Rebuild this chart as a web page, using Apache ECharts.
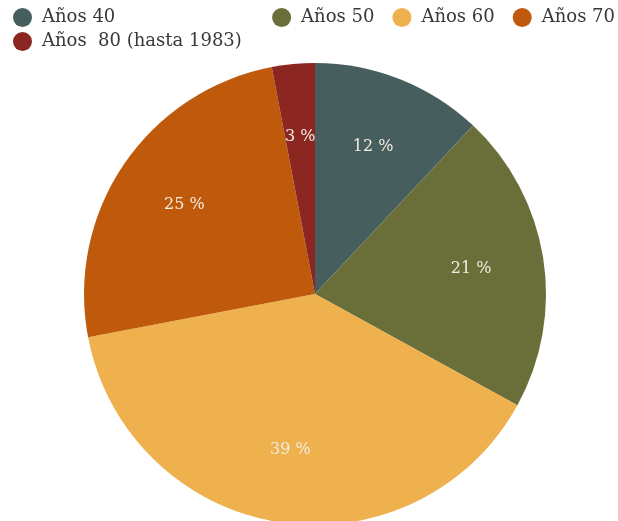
<!DOCTYPE html>
<html><head><meta charset="utf-8">
<script src="https://cdn.jsdelivr.net/npm/echarts@6/dist/echarts.min.js"></script>
<style>html,body{margin:0;padding:0;background:#fff}#c{width:618px;height:521px}</style>
</head><body><div id="c"></div>
<script>
const categories = ['Años 40', 'Años 50', 'Años 60', 'Años 70', 'Años  80 (hasta 1983)'];
const values = [12, 21, 39, 25, 3];
const colors = ['#475e5e', '#6a6f3a', '#efb04e', '#bf5a0c', '#8c2620'];

const data = categories.map((n, i) => ({ name: n, value: values[i], itemStyle: { color: colors[i] } }));
const font = 'DejaVu Serif';
const legendBase = {
  icon: 'circle', itemWidth: 19, itemHeight: 19, itemGap: 18,
  textStyle: { fontFamily: font, fontSize: 18, color: '#383838', padding: [0, 0, 0, 5] }, padding: 0
};
const chart = echarts.init(document.getElementById('c'));
chart.setOption({
  animation: false,
  legend: [
    Object.assign({}, legendBase, { data: [categories[0]], left: 13, top: 8 }),
    Object.assign({}, legendBase, { data: [categories[1], categories[2], categories[3]], right: 3, top: 8 }),
    Object.assign({}, legendBase, { data: [categories[4]], left: 13, top: 32 })
  ],
  series: [
    {
      type: 'pie', center: [315, 294], radius: [0, 231], startAngle: 90, clockwise: true,
      data: data, label: { show: false }, labelLine: { show: false }
    },
    {
      type: 'pie', center: [315, 294], radius: [79, 231], startAngle: 90, clockwise: true, silent: true,
      data: categories.map((n, i) => ({ name: n, value: values[i], itemStyle: { color: 'rgba(0,0,0,0)' } })),
      label: { show: true, position: 'inside', formatter: '{c} %', fontFamily: font, fontSize: 16, color: '#f3ebe1', padding: [5, 0, 0, 0] },
      labelLine: { show: false }, emphasis: { disabled: true }
    }
  ]
});
</script></body></html>
